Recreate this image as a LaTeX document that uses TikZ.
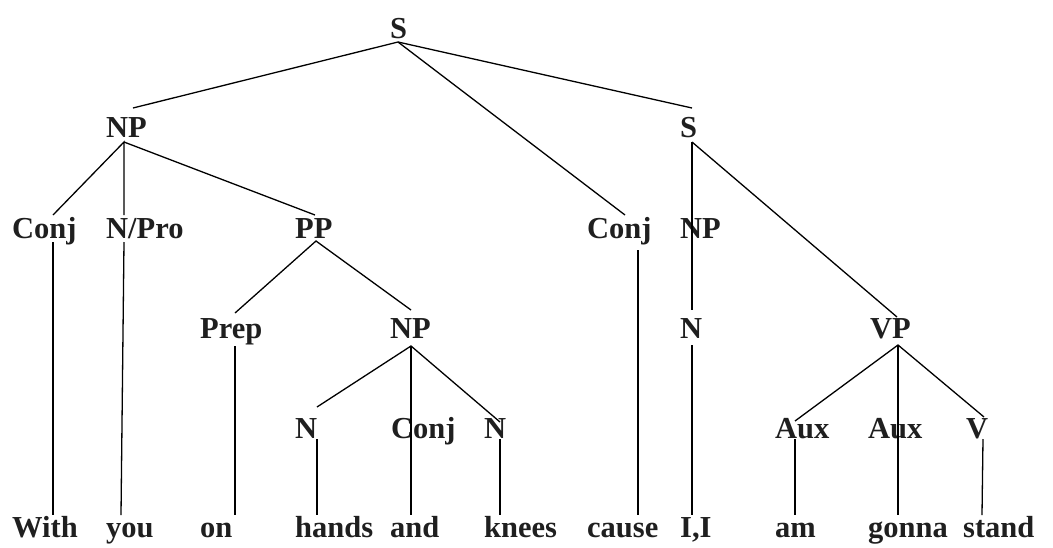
\documentclass[tikz,border=0pt]{standalone}
\usepackage{fontspec}
\setmainfont{Liberation Serif}
\begin{document}
\begin{tikzpicture}[x=1pt,y=-1pt,
  lbl/.style={anchor=base west,inner sep=0pt,font=\fontsize{30.5}{36}\selectfont\bfseries,text=black!88},
  edge/.style={line width=1.3pt,line cap=butt}]
\path[use as bounding box] (0,0) rectangle (1053,547);
% labels
\node[lbl] (s0) at (390,38) {S};
\node[lbl] (np1) at (106,137) {NP};
\node[lbl] (s1) at (680,137) {S};
\node[lbl] (conj1) at (12,238) {Conj};
\node[lbl] (npro) at (106,238) {N/Pro};
\node[lbl] (pp) at (295,238) {PP};
\node[lbl] (conj2) at (587,238) {Conj};
\node[lbl] (np2) at (680,238) {NP};
\node[lbl] (prep) at (200,338) {Prep};
\node[lbl] (np3) at (390,338) {NP};
\node[lbl] (n3) at (680,338) {N};
\node[lbl] (vp) at (870,338) {VP};
\node[lbl] (n1) at (295,438) {N};
\node[lbl] (conj3) at (391,438) {Conj};
\node[lbl] (n2) at (484,438) {N};
\node[lbl] (aux1) at (775,438) {Aux};
\node[lbl] (aux2) at (868,438) {Aux};
\node[lbl] (v) at (966,438) {V};
\node[lbl] (w1) at (12,537) {With};
\node[lbl] (w2) at (106,537) {you};
\node[lbl] (w3) at (200,537) {on};
\node[lbl] (w4) at (295,537) {hands};
\node[lbl] (w5) at (390,537) {and};
\node[lbl] (w6) at (484,537) {knees};
\node[lbl] (w7) at (587,537) {cause};
\node[lbl] (w8) at (680,537) {I,I};
\node[lbl] (w9) at (775,537) {am};
\node[lbl] (w10) at (868,537) {gonna};
\node[lbl] (w11) at (963,537) {stand};
% connector ends
\coordinate (s0b) at (398,42);
\coordinate (np1t) at (133,108);
\coordinate (s1t) at (692,108);
\coordinate (conj2t) at (625,215);
\coordinate (np1b) at (124,142);
\coordinate (conj1t) at (53,215);
\coordinate (nprot) at (124,215);
\coordinate (ppt) at (315,215);
\coordinate (s1b) at (692,142);
\coordinate (np2t) at (692,310);
\coordinate (vpt) at (897,317);
\coordinate (ppb) at (316,241);
\coordinate (prept) at (235,313);
\coordinate (np3t) at (411,310);
\coordinate (np3b) at (411,346);
\coordinate (n1t) at (317,407);
\coordinate (n2t) at (500,422);
\coordinate (w5t) at (411,515);
\coordinate (vpb) at (898,345);
\coordinate (aux1t) at (795,421);
\coordinate (w10t) at (898,515);
\coordinate (vt) at (984,417);
\coordinate (conj1b) at (53,242);
\coordinate (w1t) at (53,515);
\coordinate (nprob) at (124,242);
\coordinate (w2t) at (121,515);
\coordinate (prepb) at (235,346);
\coordinate (w3t) at (235,515);
\coordinate (n1b) at (317,439);
\coordinate (w4t) at (317,515);
\coordinate (n2b) at (500,439);
\coordinate (w6t) at (500,515);
\coordinate (conj2b) at (638,250);
\coordinate (w7t) at (638,515);
\coordinate (n3b) at (692,345);
\coordinate (w8t) at (692,515);
\coordinate (aux1b) at (795,439);
\coordinate (w9t) at (795,515);
\coordinate (vb) at (983,439);
\coordinate (w11t) at (982,515);
% connectors
\draw[edge] (np1t) -- (s0b) -- (s1t);
\draw[edge] (s0b) -- (conj2t);
\draw[edge] (conj1t) -- (np1b) -- (nprot);
\draw[edge] (np1b) -- (ppt);
\draw[edge] (prept) -- (ppb) -- (np3t);
\draw[edge] (s1b) -- (np2t);
\draw[edge] (s1b) -- (vpt);
\draw[edge] (n1t) -- (np3b) -- (n2t);
\draw[edge] (np3b) -- (w5t);
\draw[edge] (aux1t) -- (vpb) -- (vt);
\draw[edge] (vpb) -- (w10t);
\draw[edge] (conj1b) -- (w1t);
\draw[edge] (nprob) -- (w2t);
\draw[edge] (prepb) -- (w3t);
\draw[edge] (n1b) -- (w4t);
\draw[edge] (n2b) -- (w6t);
\draw[edge] (conj2b) -- (w7t);
\draw[edge] (n3b) -- (w8t);
\draw[edge] (aux1b) -- (w9t);
\draw[edge] (vb) -- (w11t);
\end{tikzpicture}
\end{document}
